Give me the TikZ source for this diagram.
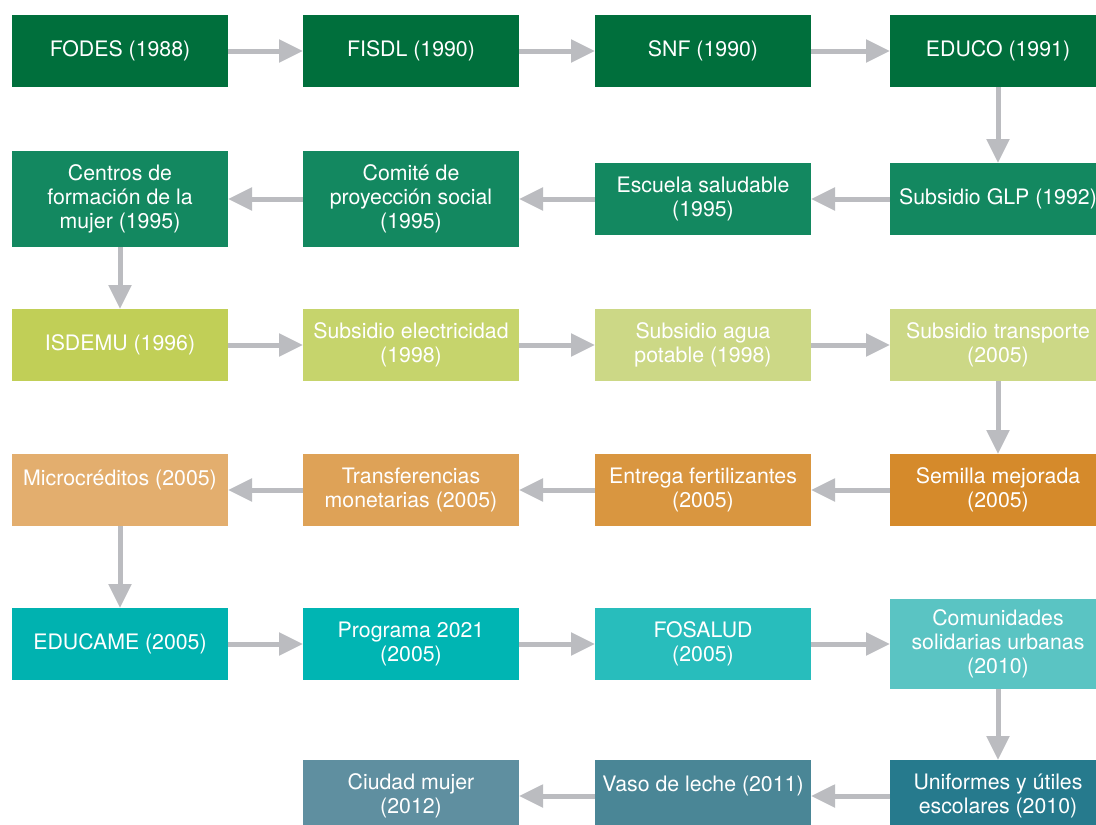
\documentclass[tikz,border=0pt]{standalone}
\usepackage{fontspec}
\setmainfont{TeX Gyre Heros}
\usetikzlibrary{arrows.meta,positioning}
\definecolor{verdeA}{HTML}{006F3C}
\definecolor{verdeB}{HTML}{138860}
\definecolor{limaA}{HTML}{C1CF57}
\definecolor{limaB}{HTML}{C6D46C}
\definecolor{limaC}{HTML}{CCD886}
\definecolor{naranjaA}{HTML}{D58A2B}
\definecolor{naranjaB}{HTML}{D99640}
\definecolor{naranjaC}{HTML}{DEA257}
\definecolor{naranjaD}{HTML}{E3AE6E}
\definecolor{turqA}{HTML}{00B2B0}
\definecolor{turqB}{HTML}{00B5B3}
\definecolor{turqC}{HTML}{28BDBC}
\definecolor{turqD}{HTML}{5AC4C3}
\definecolor{azulA}{HTML}{267A8D}
\definecolor{azulB}{HTML}{4A8696}
\definecolor{azulC}{HTML}{5F8FA0}
\definecolor{flechagris}{HTML}{BBBCC0}
\tikzset{
    %Define standard arrow tip
    >={Triangle[length=24pt,width=22pt]},
    %Define style for boxes
    hito/.style={
           rectangle,
           draw=none,
           minimum width=216pt,
           minimum height=72pt,
           inner sep=0pt,
           outer sep=0pt,
           text=white,
           font=\fontsize{21.3}{24}\selectfont,
           align=center},
    % Define arrow style
    flecha/.style={
           ->,
           draw=flechagris,
           line width=5pt}
}
\begin{document}
\begin{tikzpicture}[x=1pt,y=-1pt,node distance=75pt]
\useasboundingbox (0,0) rectangle (1096,825);
 %nodes
\node[hito, fill=verdeA](1) at (120,51){FODES (1988)};
\node[hito, fill=verdeA, right=of 1](2){FISDL (1990)};
\node[hito, fill=verdeA, right=76pt of 2](3){SNF (1990)};
\node[hito, fill=verdeA, right=79pt of 3](4){EDUCO (1991)};
\node[hito, fill=verdeB, below=76pt of 4](5){Subsidio GLP (1992)};
\node[hito, fill=verdeB, left=79pt of 5](6){Escuela saludable\\(1995)};
\node[hito, fill=verdeB, minimum height=96pt, left=76pt of 6](7){Comité de\\proyección social\\(1995)};
\node[hito, fill=verdeB, minimum height=96pt, left=of 7](8){Centros de\\formación de la\\mujer (1995)};
\node[hito, fill=limaA, below=62pt of 8](9){ISDEMU (1996)};
\node[hito, fill=limaB, right=of 9](10){Subsidio electricidad\\(1998)};
\node[hito, fill=limaC, right=76pt of 10](11){Subsidio agua\\potable (1998)};
\node[hito, fill=limaC, right=79pt of 11](12){Subsidio transporte\\(2005)};
\node[hito, fill=naranjaA, below=73pt of 12](13){Semilla mejorada\\(2005)};
\node[hito, fill=naranjaB, left=79pt of 13](14){Entrega fertilizantes\\(2005)};
\node[hito, fill=naranjaC, left=76pt of 14](15){Transferencias\\monetarias (2005)};
\node[hito, fill=naranjaD, left=of 15](16){Microcréditos (2005)\\\mbox{}};
\node[hito, fill=turqA, below=82pt of 16](17){EDUCAME (2005)};
\node[hito, fill=turqB, right=of 17](18){Programa 2021\\(2005)};
\node[hito, fill=turqC, right=76pt of 18](19){FOSALUD\\(2005)};
\node[hito, fill=turqD, minimum height=90pt, right=79pt of 19](20){Comunidades\\solidarias urbanas\\(2010)};
\node[hito, fill=azulA, below=71pt of 20](21){Uniformes y útiles\\escolares (2010)};
\node[hito, fill=azulB, left=79pt of 21](22){Vaso de leche (2011)\\\mbox{}};
\node[hito, fill=azulC, left=76pt of 22](23){Ciudad mujer\\(2012)};
\path[every edge/.style={flecha}]
    (1) edge (2)
    (2) edge (3)
    (3) edge (4)
    (4) edge (5)
    (5) edge (6)
    (6) edge (7)
    (7) edge (8)
    (8) edge (9)
    (9) edge (10)
    (10) edge (11)
    (11) edge (12)
    (12) edge (13)
    (13) edge (14)
    (14) edge (15)
    (15) edge (16)
    (16) edge (17)
    (17) edge (18)
    (18) edge (19)
    (19) edge (20)
    (20) edge (21)
    (21) edge (22)
    (22) edge (23);
\end{tikzpicture}
\end{document}
